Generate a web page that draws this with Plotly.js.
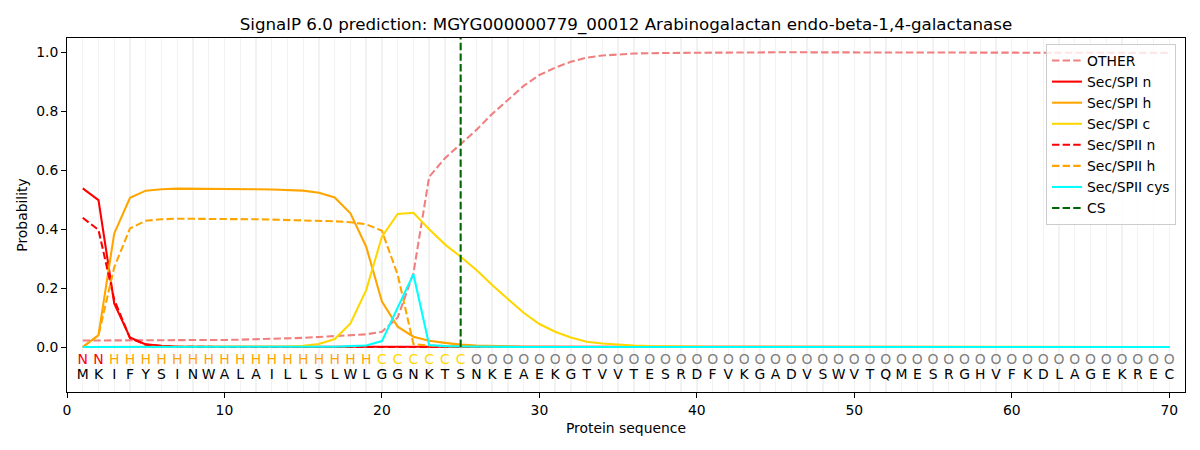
<!DOCTYPE html>
<html>
<head>
<meta charset="utf-8">
<script src="https://cdn.plot.ly/plotly-3.0.1.min.js"></script>
<style>html,body{margin:0;padding:0;background:#fff;}#chart{width:1200px;height:450px;}</style>
</head>
<body>
<div id="chart"></div>
<script>
// ---- data ----
const sequence = "MKIFYSINWALAILLSLWLGGNKTSNKEAEKGTVVTESRDFVKGADVSWVTQMESRGHVFKDLAGEKREC".split("");
const regionLabels = "NNHHHHHHHHHHHHHHHHHCCCCCCOOOOOOOOOOOOOOOOOOOOOOOOOOOOOOOOOOOOOOOOOOOOO".split("");
const positions = sequence.map((_, i) => i + 1);
const csPosition = 25;

const other = [0.022,0.022,0.022,0.022,0.022,0.022,0.022,0.023,0.023,0.024,
               0.025,0.026,0.027,0.029,0.031,0.034,0.037,0.040,0.043,0.052,
               0.100,0.250,0.577,0.640,0.688,0.736,0.790,0.837,0.885,0.922,
               0.947,0.967,0.981,0.988,0.992,0.995,0.996,0.997,0.997,0.998,
               0.998,0.998,0.999,0.999,0.999,0.999,0.999,0.999,0.999,0.999,
               0.999,0.999,0.999,0.999,0.999,0.999,0.998,0.998,0.998,0.998,
               0.998,0.998,0.998,0.998,0.997,0.997,0.997,0.997,0.997,0.997];
const secSPIn = [0.538,0.498,0.148,0.032,0.009,0.004,0.002,0.001,0.001,0.001,
                 0.001,0.001,0.001,0.001,0.001,0.001,0.001,0.001,0.001,0.001,
                 0.001,0.001,0.001,0.001,0,0,0,0,0,0,
                 0,0,0,0,0,0,0,0,0,0, 0,0,0,0,0,0,0,0,0,0,
                 0,0,0,0,0,0,0,0,0,0, 0,0,0,0,0,0,0,0,0,0];
const secSPIh = [0.000,0.040,0.385,0.506,0.530,0.535,0.537,0.537,0.537,0.536,
                 0.536,0.535,0.534,0.533,0.530,0.523,0.507,0.453,0.340,0.154,
                 0.069,0.035,0.021,0.014,0.008,0.005,0.003,0.002,0.001,0.001,
                 0,0,0,0,0,0,0,0,0,0, 0,0,0,0,0,0,0,0,0,0,
                 0,0,0,0,0,0,0,0,0,0, 0,0,0,0,0,0,0,0,0,0];
const secSPIc = [0,0,0,0,0,0,0,0,0,0.001,
                 0.001,0.001,0.001,0.002,0.004,0.010,0.027,0.080,0.193,0.374,
                 0.451,0.455,0.399,0.348,0.306,0.261,0.210,0.163,0.116,0.078,
                 0.052,0.032,0.018,0.012,0.008,0.005,0.003,0.002,0.002,0.001,
                 0.001,0.001,0.001,0.001,0.001,0.001,0.001,0.001,0.001,0.001,
                 0,0,0,0,0,0,0,0,0,0, 0,0,0,0,0,0,0,0,0,0];
const secSPIIn = [0.438,0.397,0.160,0.030,0.008,0.003,0.001,0,0,0,
                  0,0,0,0,0,0,0,0,0,0, 0,0,0,0,0,0,0,0,0,0,
                  0,0,0,0,0,0,0,0,0,0, 0,0,0,0,0,0,0,0,0,0,
                  0,0,0,0,0,0,0,0,0,0, 0,0,0,0,0,0,0,0,0,0];
const secSPIIh = [0.000,0.040,0.270,0.402,0.428,0.433,0.435,0.435,0.435,0.434,
                  0.434,0.433,0.432,0.431,0.429,0.428,0.426,0.423,0.416,0.394,
                  0.245,0.010,0.005,0.003,0.002,0.001,0,0,0,0,
                  0,0,0,0,0,0,0,0,0,0, 0,0,0,0,0,0,0,0,0,0,
                  0,0,0,0,0,0,0,0,0,0, 0,0,0,0,0,0,0,0,0,0];
const secSPIIcys = [0,0,0,0,0,0,0,0,0,0,
                    0,0,0,0,0,0,0.001,0.003,0.005,0.020,
                    0.134,0.247,0.007,0.003,0.002,0.001,0.001,0.001,0,0,
                    0,0,0,0,0,0,0,0,0,0, 0,0,0,0,0,0,0,0,0,0,
                    0,0,0,0,0,0,0,0,0,0, 0,0,0,0,0,0,0,0,0,0];

// ---- styles ----
const FONT = "DejaVu Sans";
const LW = 2.08;
const DASH = "7.4px,3.2px";
const GRID = "#f2f2f2";
const labelColors = {N: "#ff0000", H: "#ffa500", C: "#ffd700", O: "#808080"};

function line(name, y, color, dashed) {
  return {x: positions, y: y, name: name, type: "scatter", mode: "lines",
          line: {color: color, width: LW, dash: dashed ? DASH : "solid"}, hoverinfo: "skip"};
}

const traces = [
  line("OTHER", other, "#f08080", true),
  line("Sec/SPI n", secSPIn, "#ff0000", false),
  line("Sec/SPI h", secSPIh, "#ffa500", false),
  line("Sec/SPI c", secSPIc, "#ffd700", false),
  line("Sec/SPII n", secSPIIn, "#ff0000", true),
  line("Sec/SPII h", secSPIIh, "#ffa500", true),
  line("Sec/SPII cys", secSPIIcys, "#00ffff", false),
  {x: [csPosition, csPosition], y: [0, 1.1], name: "CS", type: "scatter", mode: "lines",
   line: {color: "#006400", width: LW, dash: DASH}, hoverinfo: "skip"},
  {x: positions, y: positions.map(() => -0.047), type: "scatter", mode: "text",
   text: regionLabels, textposition: "middle center",
   textfont: {family: FONT, size: 13.9, color: regionLabels.map(l => labelColors[l])},
   showlegend: false, hoverinfo: "skip", cliponaxis: false},
  {x: positions, y: positions.map(() => -0.098), type: "scatter", mode: "text",
   text: sequence, textposition: "middle center",
   textfont: {family: FONT, size: 13.9, color: "#000000"},
   showlegend: false, hoverinfo: "skip", cliponaxis: false}
];

const layout = {
  width: 1200, height: 450,
  margin: {l: 67, r: 15, t: 38, b: 58},
  paper_bgcolor: "#ffffff", plot_bgcolor: "#ffffff",
  font: {family: FONT, size: 13.9, color: "#000000"},
  title: {text: "SignalP 6.0 prediction: MGYG000000779_00012 Arabinogalactan endo-beta-1,4-galactanase",
          font: {family: FONT, size: 16.7, color: "#000000"},
          x: 0.5, xref: "paper", xanchor: "center", y: 0.947, yref: "container", yanchor: "middle"},
  xaxis: {range: [0, 71], tickmode: "array", tickvals: [0,10,20,30,40,50,60,70],
          ticks: "outside", ticklen: 5, tickwidth: 1, tickcolor: "#000",
          showline: true, mirror: true, linecolor: "#000", linewidth: 1,
          showgrid: true, gridcolor: GRID, gridwidth: 1.4, zeroline: false,
          minor: {dtick: 1, tick0: 0, showgrid: true, gridcolor: GRID, gridwidth: 1.4, ticks: ""},
          title: {text: "Protein sequence", font: {family: FONT, size: 13.9}, standoff: 6},
          automargin: false},
  yaxis: {range: [-0.1525, 1.0475], tickmode: "array", tickvals: [0,0.2,0.4,0.6,0.8,1.0],
          ticktext: ["0.0","0.2","0.4","0.6","0.8","1.0"],
          ticks: "outside", ticklen: 5, tickwidth: 1, tickcolor: "#000",
          showline: true, mirror: true, linecolor: "#000", linewidth: 1,
          showgrid: false, zeroline: false,
          title: {text: "Probability", font: {family: FONT, size: 13.9}, standoff: 5},
          automargin: false},
  legend: {x: 0.8757, y: 0.983, xanchor: "left", yanchor: "top",
           bgcolor: "rgba(255,255,255,0.8)", bordercolor: "#cccccc", borderwidth: 1,
           font: {family: FONT, size: 13.9}, tracegroupgap: 0, itemwidth: 30},
  showlegend: true
};

Plotly.newPlot("chart", traces, layout, {staticPlot: true});
</script>
</body>
</html>
